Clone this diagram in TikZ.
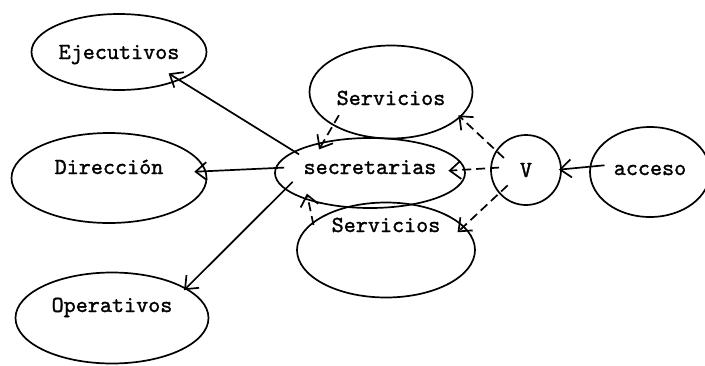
\documentclass[tikz,border=0pt]{standalone}
\usepackage{fontspec}
\newfontfamily\typew{lmmono10-regular.otf}[FakeBold=1.3]
\usetikzlibrary{shapes.geometric,arrows.meta}
\tikzset{
  blob/.style={draw,ellipse,line width=1.7pt,inner sep=0pt,text height=14pt,text depth=0pt,font=\fontsize{23}{27}\selectfont\typew},
  arr/.style={-{Straight Barb[length=11pt,width=18pt]},line width=1.7pt},
  darr/.style={arr,dash pattern=on 9pt off 5pt}
}
\begin{document}
\begin{tikzpicture}[x=1pt,y=-1pt]
\useasboundingbox (0,0) rectangle (705,365);

\node[blob,minimum width=175pt,minimum height=76pt] (ejec) at (119,52) {Ejecutivos};
\node[blob,minimum width=195pt,minimum height=90pt,text depth=22pt] (dir) at (109,178) {Dirección};
\node[blob,minimum width=193pt,minimum height=91pt,text depth=26pt] (oper) at (112,318) {Operativos};
\node[blob,minimum width=190pt,minimum height=70pt,text depth=12pt] (sec) at (370,173) {secretarias};
\node[blob,minimum width=163pt,minimum height=93pt,text height=26pt] (srvt) at (391,92) {Servicios};
\node[blob,minimum width=178pt,minimum height=95pt,text depth=50pt] (srvb) at (386,250) {Servicios};
\node[blob,minimum width=70pt,minimum height=70pt] (v) at (526,170) {V};
\node[blob,minimum width=120pt,minimum height=90pt,text depth=8pt] (acc) at (650,172) {acceso};

\draw[arr,shorten <=-6pt,shorten >=-13pt] (sec.164) -- (ejec.335);
\draw[arr,shorten <=-9pt,shorten >=-12pt] (sec.177) -- (dir.4);
\draw[arr,shorten <=-11pt,shorten >=-3pt] (sec.191) -- (oper.22);
\draw[darr,shorten <=-12pt,shorten >=-9pt] (srvt.210) -- (sec.146);
\draw[darr,shorten <=-3pt,shorten >=-7pt] (srvb.159) -- (sec.204);
\draw[darr,shorten <=-11pt,shorten >=-3pt] (v.147) -- (srvt.340);
\draw[darr,shorten <=-9pt,shorten >=-17pt] (v.177) -- (sec.2);
\draw[darr,shorten <=-12pt,shorten >=-9pt] (v.221) -- (srvb.17);
\draw[arr,shorten <=-15pt,shorten >=-3pt] (acc.175) -- (v.1);

\end{tikzpicture}
\end{document}
